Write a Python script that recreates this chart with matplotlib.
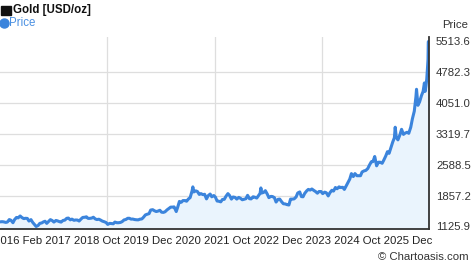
import matplotlib
matplotlib.use("Agg")
import matplotlib.pyplot as plt
import matplotlib.dates as mdates
from matplotlib.lines import Line2D
import pandas as pd

plt.rcParams['font.family'] = ['Liberation Sans', 'DejaVu Sans']

title = "Gold [USD/oz]"
series_name = "Price"
axis_label = "Price"
x_label_text = "2016 Feb 2017 2018 Oct 2019 Dec 2020 2021 Oct 2022 Dec 2023 2024 Oct 2025 Dec"
credit = "\u00a9 Chartoasis.com"
y_ticks = [1125.9, 1857.2, 2588.5, 3319.7, 4051.0, 4782.3, 5513.6]

dates = [
    "2016-02-12", "2016-03-01", "2016-03-15", "2016-04-01", "2016-04-15", "2016-05-01", "2016-05-15",
    "2016-06-01", "2016-06-15", "2016-07-01", "2016-07-15", "2016-08-01", "2016-08-15", "2016-09-01",
    "2016-09-15", "2016-10-01", "2016-10-15", "2016-11-01", "2016-11-15", "2016-12-01", "2016-12-15",
    "2017-01-01", "2017-01-15", "2017-02-01", "2017-02-15", "2017-03-01", "2017-03-15", "2017-04-01",
    "2017-04-15", "2017-05-01", "2017-05-15", "2017-06-01", "2017-06-15", "2017-07-01", "2017-07-15",
    "2017-08-01", "2017-08-15", "2017-09-01", "2017-09-15", "2017-10-01", "2017-10-15", "2017-11-01",
    "2017-11-15", "2017-12-01", "2017-12-15",
    "2018-01-01", "2018-01-15", "2018-02-01", "2018-02-15", "2018-03-01", "2018-03-15", "2018-04-01",
    "2018-04-15", "2018-05-01", "2018-05-15", "2018-06-01", "2018-06-15", "2018-07-01", "2018-07-15",
    "2018-08-01", "2018-08-15", "2018-09-01", "2018-09-15", "2018-10-01", "2018-10-15", "2018-11-01",
    "2018-11-15", "2018-12-01", "2018-12-15",
    "2019-01-01", "2019-01-15", "2019-02-01", "2019-02-15", "2019-03-01", "2019-03-15", "2019-04-01",
    "2019-04-15", "2019-05-01", "2019-05-15", "2019-06-01", "2019-06-15", "2019-07-01", "2019-07-15",
    "2019-08-01", "2019-08-15", "2019-09-01", "2019-09-15", "2019-10-01", "2019-10-15", "2019-11-01",
    "2019-11-15", "2019-12-01", "2019-12-15",
    "2020-01-01", "2020-01-15", "2020-02-01", "2020-02-15", "2020-03-01", "2020-03-19", "2020-04-01",
    "2020-04-15", "2020-05-01", "2020-05-15", "2020-06-01", "2020-06-15", "2020-07-01", "2020-07-15",
    "2020-08-01", "2020-08-07", "2020-08-15", "2020-09-01", "2020-09-15", "2020-10-01", "2020-10-15",
    "2020-11-01", "2020-11-15", "2020-12-01", "2020-12-15",
    "2021-01-01", "2021-01-15", "2021-02-01", "2021-02-15", "2021-03-01", "2021-03-15", "2021-04-01",
    "2021-04-15", "2021-05-01", "2021-05-15", "2021-06-01", "2021-06-15", "2021-07-01", "2021-07-15",
    "2021-08-01", "2021-08-15", "2021-09-01", "2021-09-15", "2021-10-01", "2021-10-15", "2021-11-01",
    "2021-11-15", "2021-12-01", "2021-12-15",
    "2022-01-01", "2022-01-15", "2022-02-01", "2022-02-15", "2022-03-01", "2022-03-08", "2022-03-15",
    "2022-04-01", "2022-04-15", "2022-05-01", "2022-05-15", "2022-06-01", "2022-06-15", "2022-07-01",
    "2022-07-15", "2022-08-01", "2022-08-15", "2022-09-01", "2022-09-15", "2022-10-01", "2022-10-15",
    "2022-11-01", "2022-11-15", "2022-12-01", "2022-12-15",
    "2023-01-01", "2023-01-15", "2023-02-01", "2023-02-15", "2023-03-01", "2023-03-15", "2023-04-01",
    "2023-04-15", "2023-05-01", "2023-05-15", "2023-06-01", "2023-06-15", "2023-07-01", "2023-07-15",
    "2023-08-01", "2023-08-15", "2023-09-01", "2023-09-15", "2023-10-01", "2023-10-15", "2023-11-01",
    "2023-11-15", "2023-12-01", "2023-12-15",
    "2024-01-01", "2024-01-15", "2024-02-01", "2024-02-15", "2024-03-01", "2024-03-15", "2024-04-01",
    "2024-04-15", "2024-05-01", "2024-05-15", "2024-06-01", "2024-06-15", "2024-07-01", "2024-07-15",
    "2024-08-01", "2024-08-15", "2024-09-01", "2024-09-15", "2024-10-01", "2024-10-15", "2024-10-30",
    "2024-11-15", "2024-12-01", "2024-12-15",
    "2025-01-01", "2025-01-15", "2025-02-01", "2025-02-15", "2025-03-01", "2025-03-15", "2025-04-01",
    "2025-04-15", "2025-04-22", "2025-05-01", "2025-05-15", "2025-06-01", "2025-06-15", "2025-07-01",
    "2025-07-15", "2025-08-01", "2025-08-15", "2025-09-01", "2025-09-15", "2025-10-01", "2025-10-15",
    "2025-10-20", "2025-11-01", "2025-11-15", "2025-12-01", "2025-12-15", "2025-12-26",
    "2026-01-01", "2026-01-08", "2026-01-15", "2026-01-22", "2026-01-26", "2026-01-29", "2026-01-30",
    "2026-02-02", "2026-02-03",
]

prices = [
    1235, 1240, 1235, 1222, 1232, 1290, 1273,
    1215, 1290, 1340, 1330, 1375, 1340, 1312,
    1320, 1317, 1255, 1288, 1225, 1170, 1126,
    1150, 1200, 1210, 1235, 1250, 1200, 1248,
    1288, 1265, 1230, 1268, 1258, 1240, 1230,
    1270, 1275, 1320, 1325, 1283, 1300, 1272,
    1280, 1278, 1255,
    1305, 1340, 1345, 1355, 1318, 1318, 1325,
    1345, 1305, 1290, 1298, 1278, 1252, 1240,
    1220, 1175, 1200, 1195, 1190, 1230, 1215,
    1215, 1222, 1240,
    1282, 1290, 1320, 1320, 1300, 1302, 1290,
    1285, 1283, 1298, 1305, 1345, 1400, 1415,
    1430, 1515, 1525, 1500, 1480, 1490, 1510,
    1465, 1460, 1475,
    1520, 1550, 1585, 1585, 1590, 1480, 1590,
    1720, 1700, 1740, 1740, 1725, 1780, 1810,
    1975, 2065, 1945, 1970, 1955, 1885, 1905,
    1880, 1890, 1780, 1855,
    1895, 1830, 1860, 1820, 1730, 1725, 1710,
    1765, 1770, 1840, 1905, 1860, 1775, 1825,
    1815, 1775, 1815, 1795, 1760, 1770, 1785,
    1865, 1785, 1780,
    1830, 1820, 1800, 1855, 1910, 2040, 1920,
    1935, 1975, 1895, 1810, 1840, 1835, 1810,
    1705, 1770, 1775, 1710, 1665, 1660, 1645,
    1635, 1775, 1775, 1780,
    1825, 1920, 1945, 1835, 1830, 1910, 1970,
    2005, 1990, 2015, 1980, 1955, 1915, 1955,
    1955, 1905, 1940, 1925, 1850, 1925, 1985,
    1965, 2050, 2020,
    2065, 2050, 2055, 2005, 2085, 2160, 2250,
    2380, 2310, 2380, 2330, 2330, 2330, 2420,
    2445, 2455, 2500, 2580, 2660, 2665, 2785,
    2565, 2650, 2650,
    2625, 2700, 2800, 2900, 2860, 2985, 3130,
    3230, 3480, 3240, 3180, 3300, 3430, 3310,
    3340, 3360, 3335, 3480, 3680, 3860, 4200,
    4380, 4000, 4080, 4230, 4330, 4530,
    4330, 4460, 4620, 4900, 5090, 5513.6, 4900,
    4700, 4900,
]

x = pd.to_datetime(dates)

W, H = 474, 269
fig = plt.figure(figsize=(W / 100, H / 100), dpi=100)
ax = fig.add_axes([0, 40 / H, 429 / W, 192 / H])

y_lo, y_hi = 1066, 5620
ax.set_xlim(x[0], x[-1])
ax.set_ylim(y_lo, y_hi)

grid_c = "#dedede"
for yt in y_ticks[1:-1]:
    ax.axhline(yt, color=grid_c, lw=0.9, zorder=0)
x0 = mdates.date2num(x[0])
x1 = mdates.date2num(x[-1])
for k in (1, 2, 3):
    ax.axvline(x0 + (x1 - x0) * k / 4, color=grid_c, lw=0.9, zorder=0)

ax.fill_between(x, prices, y_lo, color="#eaf4fd", zorder=1, lw=0)
ax.plot(x, prices, color="#3b84dc", lw=2.2, zorder=2, solid_joinstyle="round")

for s in ("left", "top"):
    ax.spines[s].set_visible(False)
for s in ("right", "bottom"):
    ax.spines[s].set_color("#333333")
    ax.spines[s].set_linewidth(1.3)

ax.yaxis.tick_right()
ax.set_yticks(y_ticks)
ax.set_yticklabels([f"{v:.1f}" for v in y_ticks])
ax.tick_params(axis="y", length=0, pad=5, labelsize=8.2, labelcolor="#333333")
ax.set_xticks([])

# header
fig.patches.append(plt.Rectangle((1 / W, 1 - 15 / H), 10 / W, 9 / H, transform=fig.transFigure,
                                 color="#111111"))
fig.text(13 / W, 1 - 10.5 / H, title, fontsize=8.3, fontweight="bold", color="#111111",
         va="center", ha="left")
fig.add_artist(Line2D([4 / W], [1 - 23 / H], marker="o", markersize=6.5, color="#3b84dc",
                      linestyle="none", transform=fig.transFigure))
fig.text(9 / W, 1 - 23 / H, series_name, fontsize=8.3, color="#4a90e2", va="center", ha="left")

fig.text(468 / W, 1 - 25 / H, axis_label, fontsize=8.2, color="#333333", va="center", ha="right")
fig.text(432 / W, 1 - 240.5 / H, x_label_text, fontsize=8.2, color="#222222", va="center", ha="right")
fig.text(469 / W, 1 - 257.5 / H, credit, fontsize=8.2, color="#333333", va="center", ha="right")

fig.savefig("out.png", dpi=100, facecolor="white")
